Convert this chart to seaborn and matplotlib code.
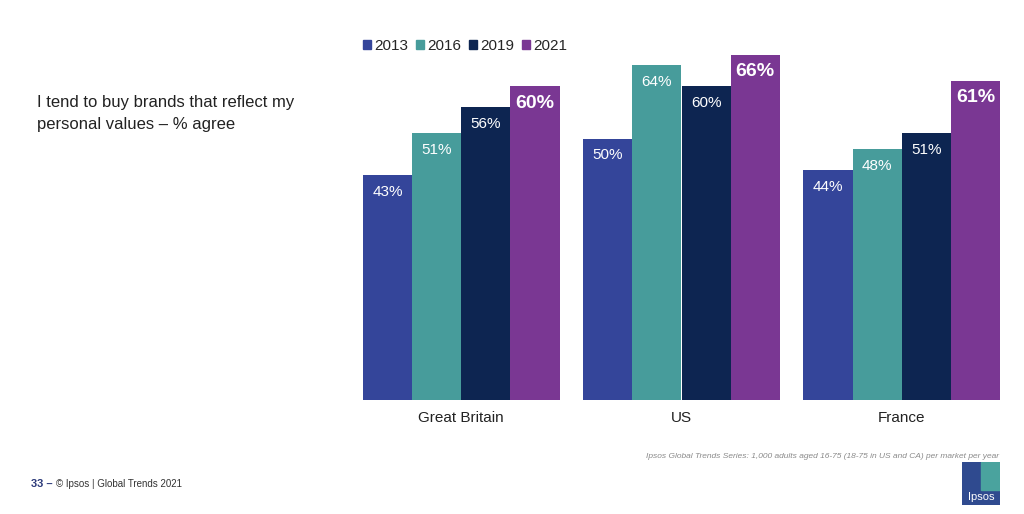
import matplotlib.pyplot as plt
import seaborn as sns
import pandas as pd
from matplotlib.patches import Rectangle

# Data
countries = ['Great Britain', 'US', 'France']
years = ['2013', '2016', '2019', '2021']
v2013 = [43, 50, 44]
v2016 = [51, 64, 48]
v2019 = [56, 60, 51]
v2021 = [60, 66, 61]
colors = ['#34459A', '#479C9B', '#0D2551', '#7A3793']

rows = []
for yr, vals in zip(years, [v2013, v2016, v2019, v2021]):
    for c, v in zip(countries, vals):
        rows.append({'Country': c, 'Year': yr, 'Agree': v})
df = pd.DataFrame(rows)

sns.set_style('white')
plt.rcParams['font.family'] = ['Liberation Sans', 'DejaVu Sans']

fig = plt.figure(figsize=(10.24, 5.14), dpi=100)
ax = fig.add_axes([351 / 1024, 114 / 514, 661 / 1024, 366 / 514])

sns.barplot(data=df, x='Country', y='Agree', hue='Year', order=countries,
            hue_order=years, palette=colors, width=0.893, saturation=1,
            linewidth=0, ax=ax, legend=False)

ax.set_xlim(-0.5, 2.5)
ax.set_ylim(0, 70)
ax.set_xlabel('')
ax.set_ylabel('')
ax.set_yticks([])
ax.tick_params(axis='x', length=0, labelsize=11, pad=8, labelcolor='#222222')
sns.despine(ax=ax, left=True, top=True, right=True, bottom=True)

# value labels inside bars
for i, cont in enumerate(ax.containers):
    last = i == len(ax.containers) - 1
    for bar in cont:
        h = bar.get_height()
        ax.text(bar.get_x() + bar.get_width() / 2, h - 3.2, f'{h:.0f}%',
                ha='center', va='center', color='white',
                fontsize=14 if last else 11,
                fontweight='bold' if last else 'normal')

# legend
handles = [Rectangle((0, 0), 1, 1, color=c) for c in colors]
fig.legend(handles, years, loc='center left', bbox_to_anchor=(355 / 1024, 1 - 46 / 514),
           ncol=4, frameon=False, fontsize=11, handlelength=0.55, handleheight=0.55,
           handletextpad=0.2, columnspacing=0.5, borderpad=0)

# side text
fig.text(37 / 1024, 1 - 103 / 514, 'I tend to buy brands that reflect my',
         fontsize=12, va='center', color='#222222')
fig.text(37 / 1024, 1 - 125 / 514, 'personal values \u2013 % agree',
         fontsize=12, va='center', color='#222222')

# footer
fig.text(999 / 1024, 1 - 457 / 514,
         'Ipsos Global Trends Series: 1,000 adults aged 16-75 (18-75 in US and CA) per market per year',
         fontsize=6, style='italic', color='#8a8a8a', ha='right', va='center')
fig.text(31 / 1024, 1 - 484 / 514, '33 \u2013', fontsize=8, fontweight='bold',
         color='#2c3a7a', va='center')
fig.text(56 / 1024, 1 - 484 / 514, '\u00a9 Ipsos | Global Trends 2021', fontsize=7,
         color='#333333', va='center')

# logo
logo = fig.add_axes([962 / 1024, 1 - 505 / 514, 38 / 1024, 43 / 514])
logo.add_patch(Rectangle((0, 0), 1, 1, color='#2f4a8f'))
logo.add_patch(Rectangle((0.5, 0.35), 0.5, 0.65, color='#4aa39e'))
logo.text(0.5, 0.18, 'Ipsos', color='white', fontsize=8, ha='center', va='center')
logo.set_xlim(0, 1)
logo.set_ylim(0, 1)
logo.axis('off')

fig.savefig('out.png', dpi=100)
